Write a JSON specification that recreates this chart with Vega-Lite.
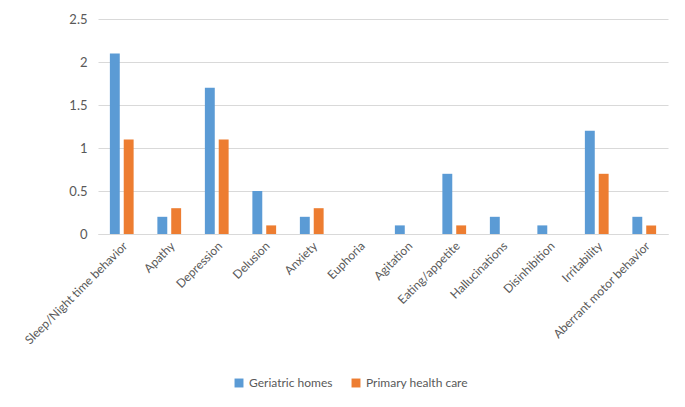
{
  "$schema": "https://vega.github.io/schema/vega-lite/v6.json",
  "autosize": "none",
  "width": 570,
  "height": 215,
  "padding": {"left": 98, "top": 19, "right": 17, "bottom": 173},
  "background": "white",
  "data": {
    "values": [
      {"cat": "Sleep/Night time behavior", "series": "Geriatric homes", "v": 2.1},
      {"cat": "Sleep/Night time behavior", "series": "Primary health care", "v": 1.1},
      {"cat": "Apathy", "series": "Geriatric homes", "v": 0.2},
      {"cat": "Apathy", "series": "Primary health care", "v": 0.3},
      {"cat": "Depression", "series": "Geriatric homes", "v": 1.7},
      {"cat": "Depression", "series": "Primary health care", "v": 1.1},
      {"cat": "Delusion", "series": "Geriatric homes", "v": 0.5},
      {"cat": "Delusion", "series": "Primary health care", "v": 0.1},
      {"cat": "Anxiety", "series": "Geriatric homes", "v": 0.2},
      {"cat": "Anxiety", "series": "Primary health care", "v": 0.3},
      {"cat": "Euphoria", "series": "Geriatric homes", "v": 0},
      {"cat": "Euphoria", "series": "Primary health care", "v": 0},
      {"cat": "Agitation", "series": "Geriatric homes", "v": 0.1},
      {"cat": "Agitation", "series": "Primary health care", "v": 0},
      {"cat": "Eating/appetite", "series": "Geriatric homes", "v": 0.7},
      {"cat": "Eating/appetite", "series": "Primary health care", "v": 0.1},
      {"cat": "Hallucinations", "series": "Geriatric homes", "v": 0.2},
      {"cat": "Hallucinations", "series": "Primary health care", "v": 0},
      {"cat": "Disinhibition", "series": "Geriatric homes", "v": 0.1},
      {"cat": "Disinhibition", "series": "Primary health care", "v": 0},
      {"cat": "Irritability", "series": "Geriatric homes", "v": 1.2},
      {"cat": "Irritability", "series": "Primary health care", "v": 0.7},
      {"cat": "Aberrant motor behavior", "series": "Geriatric homes", "v": 0.2},
      {"cat": "Aberrant motor behavior", "series": "Primary health care", "v": 0.1}
    ]
  },
  "mark": {"type": "bar"},
  "encoding": {
    "x": {
      "field": "cat", "type": "nominal", "sort": null,
      "scale": {"paddingInner": 0.5, "paddingOuter": 0.25},
      "axis": {"title": null, "labelAngle": -45, "ticks": false, "domainColor": "#D9D9D9", "labelPadding": 6, "labelFontSize": 12, "labelColor": "#595959", "labelFont": "Lato"}
    },
    "xOffset": {"field": "series", "type": "nominal", "scale": {"paddingInner": 0.286, "paddingOuter": 0}},
    "y": {
      "field": "v", "type": "quantitative",
      "scale": {"domain": [0, 2.5]},
      "axis": {"title": null, "values": [0, 0.5, 1, 1.5, 2, 2.5], "format": "~g", "domain": false, "ticks": false, "gridColor": "#D9D9D9", "labelPadding": 11, "labelFontSize": 13, "labelColor": "#595959", "labelFont": "Lato"}
    },
    "color": {
      "field": "series", "type": "nominal",
      "scale": {"domain": ["Geriatric homes", "Primary health care"], "range": ["#5B9BD5", "#ED7D31"]},
      "legend": {"title": null, "orient": "none", "legendX": 135, "legendY": 358, "direction": "horizontal", "symbolType": "square", "symbolSize": 80, "symbolStrokeWidth": 0, "labelFontSize": 12, "labelColor": "#595959", "labelFont": "Lato", "columnPadding": 17, "labelOffset": 4}
    }
  },
  "config": {"view": {"stroke": null}}
}
